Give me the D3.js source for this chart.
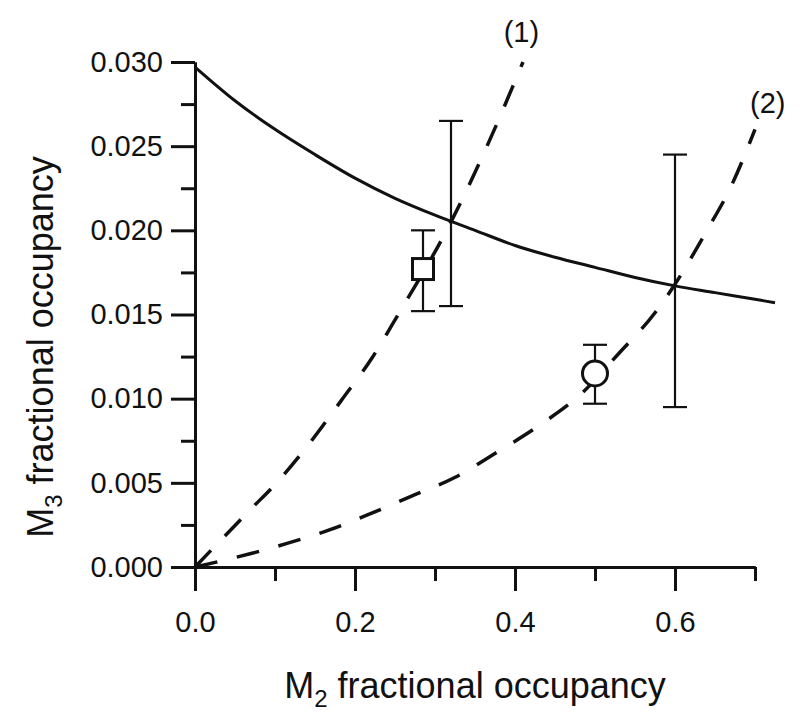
<!DOCTYPE html>
<html>
<head>
<meta charset="utf-8">
<script src="https://cdn.jsdelivr.net/npm/d3@7"></script>
<style>
  body { margin: 0; background: #fff; }
  text { font-family: "Liberation Sans", Arial, sans-serif; fill: #111; }
</style>
</head>
<body>
<div id="chart-area"></div>
<script>
// solid curve (model)
var modelCurve = [[0, 0.0297], [0.05, 0.0277], [0.1, 0.0260], [0.15, 0.0245], [0.2, 0.0231],
    [0.25, 0.0219], [0.3, 0.0209], [0.35, 0.0200], [0.4, 0.0191], [0.45, 0.0184],
    [0.5, 0.0178], [0.55, 0.0172], [0.6, 0.0167], [0.65, 0.0163], [0.7, 0.0159], [0.725, 0.0157]];
// dashed curve (1)
var curve1 = [[0, 0], [0.069, 0.0034], [0.102, 0.0050], [0.144, 0.0074], [0.183, 0.0099],
    [0.221, 0.0124], [0.254, 0.0150], [0.32, 0.0205], [0.365, 0.0250], [0.41, 0.0300]];
// dashed curve (2)
var curve2 = [[0, 0], [0.07, 0.0008], [0.115, 0.0014], [0.168, 0.0022], [0.221, 0.0032],
    [0.27, 0.0042], [0.324, 0.0053], [0.377, 0.0068], [0.43, 0.0084], [0.483, 0.0103],
    [0.53, 0.0127], [0.575, 0.0151], [0.6, 0.0168], [0.64, 0.0200], [0.67, 0.0226], [0.70, 0.0260]];
// measured points: x, y, low, high
var squarePoint = [0.285, 0.0177, 0.0152, 0.0200];
var circlePoint = [0.50, 0.0115, 0.0097, 0.0132];
// intersection error bars: x, low, high
var crossBars = [[0.32, 0.0155, 0.0265], [0.60, 0.0095, 0.0245]];
var curveLabels = [["(1)", 0.408, 0.0318], ["(2)", 0.716, 0.0276]];

var xMajor = [0, 0.2, 0.4, 0.6];
var xMinor = [0.1, 0.3, 0.5, 0.7];
var yMajor = [0, 0.005, 0.010, 0.015, 0.020, 0.025, 0.030];
var yMinor = [0.0025, 0.0075, 0.0125, 0.0175, 0.0225, 0.0275];

var width = 800, height = 725;

var svg = d3.select("#chart-area")
    .append("svg")
    .attr("width", width)
    .attr("height", height);

var x = d3.scaleLinear().domain([0, 0.7]).range([195, 755]);
var y = d3.scaleLinear().domain([0, 0.030]).range([567, 62]);

// minor ticks
svg.append("g")
    .attr("transform", "translate(0,567)")
    .call(d3.axisBottom(x).tickValues(xMinor).tickSize(14).tickSizeOuter(0).tickFormat(""));
svg.append("g")
    .attr("transform", "translate(195,0)")
    .call(d3.axisLeft(y).tickValues(yMinor).tickSize(14).tickSizeOuter(0).tickFormat(""));

// major ticks + labels
svg.append("g")
    .attr("class", "x axis")
    .attr("transform", "translate(0,567)")
    .call(d3.axisBottom(x).tickValues(xMajor).tickSize(24).tickSizeOuter(0)
        .tickPadding(20).tickFormat(d3.format(".1f")));
svg.append("g")
    .attr("class", "y axis")
    .attr("transform", "translate(195,0)")
    .call(d3.axisLeft(y).tickValues(yMajor).tickSize(24).tickSizeOuter(0)
        .tickPadding(8).tickFormat(d3.format(".3f")));

svg.selectAll(".tick line").attr("stroke", "#111").attr("stroke-width", 3);
svg.selectAll(".domain").attr("stroke", "#111").attr("stroke-width", 3);
svg.selectAll(".tick text")
    .attr("fill", "#111")
    .style("font-size", "29px")
    .style("font-family", "'Liberation Sans', Arial, sans-serif");

var line = d3.line()
    .x(d => x(d[0]))
    .y(d => y(d[1]))
    .curve(d3.curveMonotoneX);

svg.append("path")
    .datum(modelCurve)
    .attr("d", line)
    .attr("fill", "none")
    .attr("stroke", "#111")
    .attr("stroke-width", 3);

[curve1, curve2].forEach(c => {
    svg.append("path")
        .datum(c)
        .attr("d", line)
        .attr("fill", "none")
        .attr("stroke", "#111")
        .attr("stroke-width", 3.5)
        .attr("stroke-dasharray", "23,20");
});

// error bars
function errorBar(xv, lo, hi, cap) {
    var g = svg.append("g").attr("stroke", "#111").attr("stroke-width", 2.2);
    g.append("line").attr("x1", x(xv)).attr("x2", x(xv)).attr("y1", y(lo)).attr("y2", y(hi));
    g.append("line").attr("x1", x(xv) - cap).attr("x2", x(xv) + cap).attr("y1", y(lo)).attr("y2", y(lo));
    g.append("line").attr("x1", x(xv) - cap).attr("x2", x(xv) + cap).attr("y1", y(hi)).attr("y2", y(hi));
}
crossBars.forEach(d => errorBar(d[0], d[1], d[2], 12));
errorBar(squarePoint[0], squarePoint[2], squarePoint[3], 12);
errorBar(circlePoint[0], circlePoint[2], circlePoint[3], 12);

svg.append("rect")
    .attr("x", x(squarePoint[0]) - 10.5)
    .attr("y", y(squarePoint[1]) - 10.5)
    .attr("width", 21)
    .attr("height", 21)
    .attr("fill", "#fff")
    .attr("stroke", "#111")
    .attr("stroke-width", 3);

svg.append("circle")
    .attr("cx", x(circlePoint[0]))
    .attr("cy", y(circlePoint[1]))
    .attr("r", 12.5)
    .attr("fill", "#fff")
    .attr("stroke", "#111")
    .attr("stroke-width", 3);

curveLabels.forEach(d => {
    svg.append("text")
        .attr("x", x(d[1]))
        .attr("y", y(d[2]))
        .attr("dy", "0.35em")
        .attr("text-anchor", "middle")
        .style("font-size", "29px")
        .text(d[0]);
});

// X label
var xl = svg.append("text")
    .attr("x", 475)
    .attr("y", 698)
    .attr("text-anchor", "middle")
    .style("font-size", "36px");
xl.append("tspan").text("M");
xl.append("tspan").attr("dy", 9).style("font-size", "24px").text("2");
xl.append("tspan").attr("dy", -9).text(" fractional occupancy");

// Y label
var yl = svg.append("text")
    .attr("transform", "translate(53,347) rotate(-90)")
    .attr("text-anchor", "middle")
    .style("font-size", "36px");
yl.append("tspan").text("M");
yl.append("tspan").attr("dy", 9).style("font-size", "24px").text("3");
yl.append("tspan").attr("dy", -9).text(" fractional occupancy");
</script>
</body>
</html>
